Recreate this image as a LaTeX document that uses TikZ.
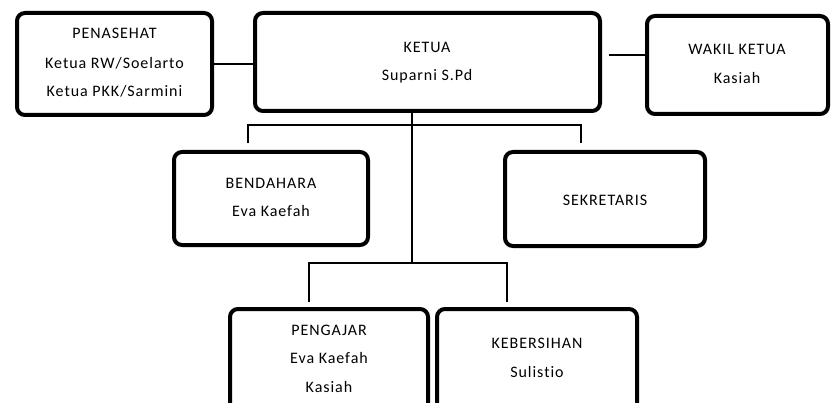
\documentclass[tikz,border=0pt]{standalone}
\usepackage{fontspec}
\setmainfont[LetterSpace=6,Ligatures={NoCommon,NoDiscretionary}]{Carlito}
\begin{document}
\begin{tikzpicture}[x=1pt,y=-1pt,
  box/.style={draw,line width=4pt,rounded corners=8pt,inner sep=0pt},
  lbl/.style={font=\fontsize{16}{18}\selectfont,inner sep=0pt,anchor=center},
  conn/.style={line width=1.4pt}]
\useasboundingbox (0,0) rectangle (834,403);
\clip (0,0) rectangle (834,403);
% boxes
\node[box,minimum width=195pt,minimum height=102pt] (pen) at (114.5,64) {};
\node[box,minimum width=345pt,minimum height=98pt] (ketua) at (427.5,62) {};
\node[box,minimum width=181pt,minimum height=98pt] (wakil) at (737.5,65) {};
\node[box,minimum width=194pt,minimum height=93pt] (bend) at (271,198.5) {};
\node[box,minimum width=200pt,minimum height=94pt] (sekr) at (605,199) {};
\node[box,minimum width=198pt,minimum height=121pt] (peng) at (329,369.5) {};
\node[box,minimum width=200pt,minimum height=121pt] (kebr) at (537,369.5) {};
% texts
\node[lbl] (t1) at (114.5,33) {PENASEHAT};
\node[lbl] (t2) at (114.5,63) {Ketua RW/Soelarto};
\node[lbl] (t3) at (114.5,91) {Ketua PKK/Sarmini};
\node[lbl] (t4) at (427,47) {KETUA};
\node[lbl] (t5) at (427,76) {Suparni S.Pd};
\node[lbl] (t6) at (737,49) {WAKIL KETUA};
\node[lbl] (t7) at (737,78) {Kasiah};
\node[lbl] (t8) at (271,183) {BENDAHARA};
\node[lbl] (t9) at (271,211) {Eva Kaefah};
\node[lbl] (t10) at (605,200) {SEKRETARIS};
\node[lbl] (t11) at (329,330) {PENGAJAR};
\node[lbl] (t12) at (329,358) {Eva Kaefah};
\node[lbl] (t13) at (329,387) {Kasiah};
\node[lbl] (t14) at (537,343) {KEBERSIHAN};
\node[lbl] (t15) at (537,372) {Sulistio};
% connector points
\coordinate (trunkTop) at (412,113);
\coordinate (trunkBot) at (412,263);
\coordinate (bL) at (248,125);
\coordinate (bR) at (581,125);
\coordinate (pL) at (309,263);
\coordinate (pR) at (507,263);
% connectors
\draw[conn] (pen.east) -- (ketua.west |- pen.east);
\draw[conn] ([xshift=7pt]ketua.east |- 0,55) -- (wakil.west |- 0,55);
\draw[conn] (trunkTop) -- (trunkBot);
\draw[conn] ([yshift=7pt]bend.north -| bL) -- (bL) -- (bR) -- ([yshift=7pt]sekr.north -| bR);
\draw[conn] ([yshift=5pt]peng.north -| pL) -- (pL) -- (pR) -- ([yshift=5pt]kebr.north -| pR);
\end{tikzpicture}
\end{document}
